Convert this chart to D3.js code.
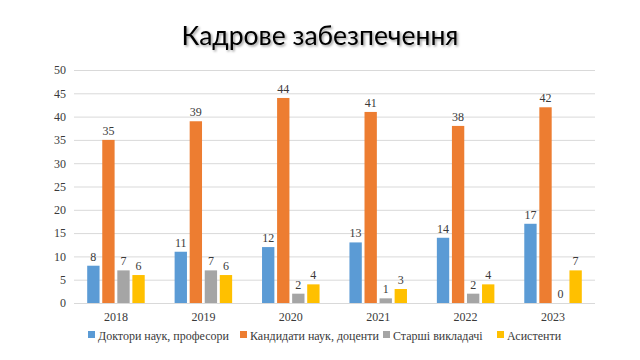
<!DOCTYPE html>
<html><head><meta charset="utf-8">
<script src="https://cdn.jsdelivr.net/npm/d3@7"></script>
<style>body{margin:0;background:#fff}svg{display:block}</style>
</head><body><svg id="c" width="640" height="360"></svg>
<script>
const categories = ["2018","2019","2020","2021","2022","2023"];
const seriesNames = ["Доктори наук, професори","Кандидати наук, доценти","Старші викладачі","Асистенти"];
const doktory = [8,11,12,13,14,17];
const kandydaty = [35,39,44,41,38,42];
const starshi = [7,7,2,1,2,0];
const asystenty = [6,6,4,3,4,7];
const yTicks = [0,5,10,15,20,25,30,35,40,45,50];
const colors = ["#5B9BD5","#ED7D31","#A5A5A5","#FFC000"];
const seriesValues = [doktory,kandydaty,starshi,asystenty];
const SERIF = "'Liberation Serif', 'Times New Roman', serif";
const TXT = "#3a3a3a";

const svg = d3.select("#c");
const m = {l:74, r:45, t:70, b:57};
const W = 640, H = 360;
const x0 = d3.scaleBand().domain(categories).range([m.l, W-m.r]).paddingInner(0.28).paddingOuter(0.12);
const x1 = d3.scaleBand().domain(d3.range(4)).range([0, x0.bandwidth()]).padding(0.18);
const y = d3.scaleLinear().domain([0,50]).range([H-m.b, m.t]);

// title
const defs = svg.append("defs");
const f = defs.append("filter").attr("id","sh").attr("x","-10%").attr("y","-30%").attr("width","120%").attr("height","160%");
f.append("feDropShadow").attr("dx",1.5).attr("dy",1.5).attr("stdDeviation",1).attr("flood-color","#000").attr("flood-opacity",0.4);
svg.append("text").attr("x",320).attr("y",45).attr("text-anchor","middle")
  .style("font-family","Lato, 'Open Sans', sans-serif").style("font-size","26.5px").attr("fill","#000")
  .attr("filter","url(#sh)").text("Кадрове забезпечення");

// grid
svg.append("g").selectAll("line").data(yTicks).join("line")
  .attr("x1",m.l).attr("x2",W-m.r).attr("y1",d=>y(d)+0.5).attr("y2",d=>y(d)+0.5)
  .attr("stroke","#D9D9D9").attr("stroke-width",1);

// y axis labels
const ya = svg.append("g").attr("transform",`translate(${m.l},0)`)
  .call(d3.axisLeft(y).tickValues(yTicks).tickSize(0).tickPadding(8));
ya.attr("font-family",null).attr("font-size",null);
ya.select(".domain").remove();
ya.selectAll("text").style("font-family",SERIF).style("font-size","12px").attr("fill",TXT);

// x axis labels
const xa = svg.append("g").attr("transform",`translate(0,${H-m.b})`)
  .call(d3.axisBottom(x0).tickSize(0).tickPadding(9));
xa.attr("font-family",null).attr("font-size",null);
xa.select(".domain").remove();
xa.selectAll("text").style("font-family",SERIF).style("font-size","12px").attr("fill",TXT);

// bars
const g = svg.append("g").selectAll("g").data(categories).join("g")
  .attr("transform",d=>`translate(${x0(d)},0)`);
g.selectAll("rect").data((d,i)=>seriesValues.map((s,k)=>({k,v:s[i]}))).join("rect")
  .attr("x",d=>x1(d.k)).attr("width",x1.bandwidth())
  .attr("y",d=>y(d.v)).attr("height",d=>y(0)-y(d.v)).attr("fill",d=>colors[d.k]);
g.selectAll("text").data((d,i)=>seriesValues.map((s,k)=>({k,v:s[i]}))).join("text")
  .attr("x",d=>x1(d.k)+x1.bandwidth()/2).attr("y",d=>y(d.v)-5)
  .attr("text-anchor","middle").style("font-family",SERIF).style("font-size","12px").attr("fill",TXT)
  .text(d=>d.v);

// legend
const legX = [88,240,383,497];
const lg = svg.append("g").selectAll("g").data(seriesNames).join("g")
  .attr("transform",(d,i)=>`translate(${legX[i]},336)`);
lg.append("rect").attr("x",0).attr("y",-5).attr("width",7).attr("height",7).attr("fill",(d,i)=>colors[i]);
lg.append("text").attr("x",10).attr("y",4).style("font-family",SERIF).style("font-size","12px").attr("fill",TXT).text(d=>d);
</script></body></html>
